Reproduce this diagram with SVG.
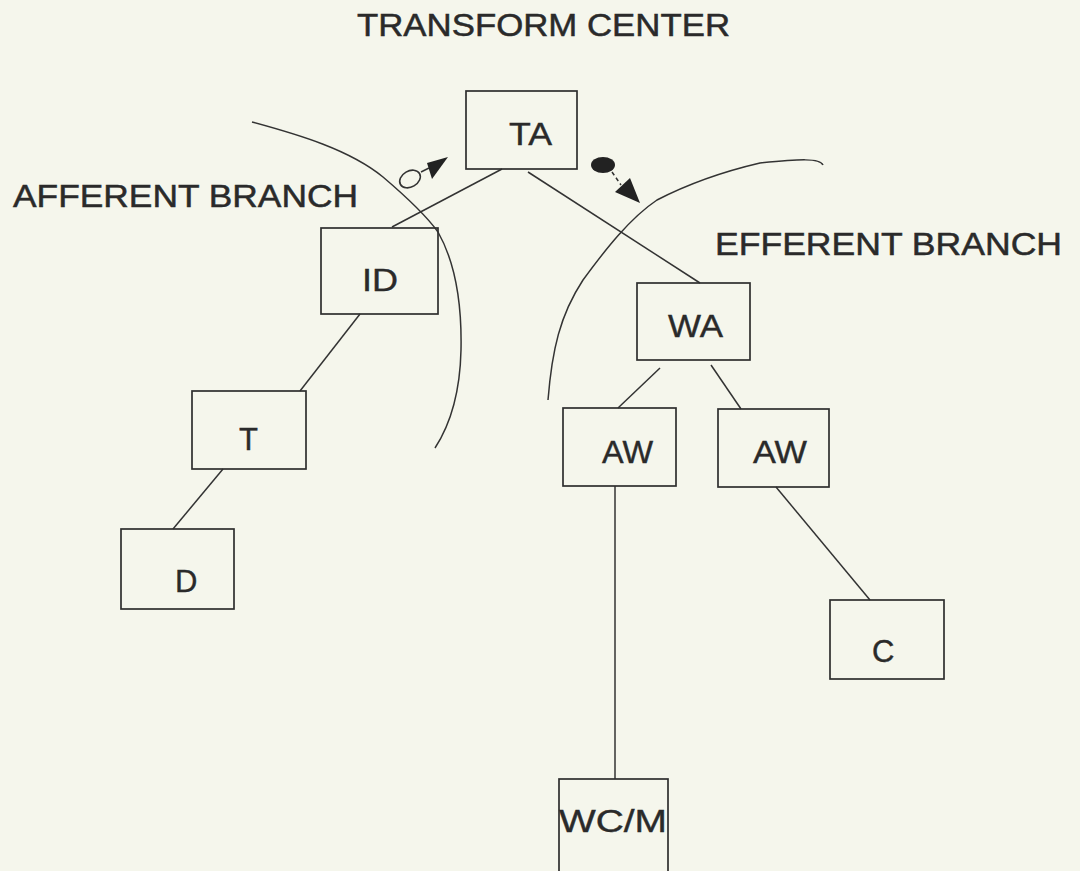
<svg xmlns="http://www.w3.org/2000/svg" width="1080" height="871" viewBox="0 0 1080 871">
<style>
.bg{fill:#f5f6ec}
.box{fill:none;stroke:#2e2e2e;stroke-width:1.7}
.ln{fill:none;stroke:#333;stroke-width:1.5}
.t{font-family:"Liberation Sans",Arial,sans-serif;font-size:32px;fill:#2a2a2a;stroke:#2a2a2a;stroke-width:0.5}
.lbl{font-family:"Liberation Sans",Arial,sans-serif;font-size:31px;fill:#2a2a2a;stroke:#2a2a2a;stroke-width:0.4}
</style>
<rect class="bg" x="0" y="0" width="1080" height="871"/>
<g id="titles">
<text class="t" x="357" y="36" textLength="373" lengthAdjust="spacingAndGlyphs">TRANSFORM CENTER</text>
<text class="t" x="13" y="207" textLength="345" lengthAdjust="spacingAndGlyphs">AFFERENT BRANCH</text>
<text class="t" x="715" y="255" textLength="347" lengthAdjust="spacingAndGlyphs">EFFERENT BRANCH</text>
</g>
<g id="boundaries">
<path class="ln" d="M252,122 C300,135 350,150 383,177 C410,200 428,218 438,232 C455,262 462,300 461,350 C460,395 450,425 435,448"/>
<path class="ln" d="M823,165 C820,158 800,159 760,163 C730,170 690,183 657,200 C630,218 605,250 583,280 C560,315 552,350 548,400"/>
</g>
<g id="connectors">
<line class="ln" x1="502" y1="169" x2="392" y2="227"/>
<line class="ln" x1="528" y1="172" x2="700" y2="283"/>
<line class="ln" x1="360" y1="314" x2="300" y2="391"/>
<line class="ln" x1="223" y1="469" x2="173" y2="529"/>
<line class="ln" x1="660" y1="368" x2="618" y2="408"/>
<line class="ln" x1="711" y1="365" x2="741" y2="409"/>
<line class="ln" x1="615" y1="486" x2="615" y2="779"/>
<line class="ln" x1="776" y1="487" x2="870" y2="600"/>
</g>
<g id="couples">
<ellipse cx="410" cy="179" rx="11" ry="8" transform="rotate(-30 410 179)" fill="none" stroke="#333" stroke-width="1.6"/>
<line class="ln" x1="421" y1="172" x2="429" y2="168"/>
<polygon points="448,157 427,163 432,179" fill="#222"/>
<ellipse cx="603" cy="165" rx="12" ry="8" fill="#222"/>
<line class="ln" x1="612" y1="172" x2="621" y2="185" stroke-dasharray="4,3"/>
<polygon points="640,203 615,192 630,178" fill="#222"/>
</g>
<g id="node-TA"><rect class="box" x="466" y="91" width="111" height="78"/><text class="lbl" x="509" y="145" textLength="43" lengthAdjust="spacingAndGlyphs">TA</text></g>
<g id="node-ID"><rect class="box" x="321" y="228" width="117" height="86"/><text class="lbl" x="362" y="291" textLength="36" lengthAdjust="spacingAndGlyphs">ID</text></g>
<g id="node-T"><rect class="box" x="192" y="391" width="114" height="78"/><text class="lbl" x="239" y="450">T</text></g>
<g id="node-D"><rect class="box" x="121" y="529" width="113" height="80"/><text class="lbl" x="175" y="592">D</text></g>
<g id="node-WA"><rect class="box" x="637" y="283" width="113" height="77"/><text class="lbl" x="668" y="337" textLength="55" lengthAdjust="spacingAndGlyphs">WA</text></g>
<g id="node-AW1"><rect class="box" x="563" y="408" width="113" height="78"/><text class="lbl" x="602" y="463" textLength="51" lengthAdjust="spacingAndGlyphs">AW</text></g>
<g id="node-AW2"><rect class="box" x="718" y="409" width="111" height="78"/><text class="lbl" x="753" y="463" textLength="54" lengthAdjust="spacingAndGlyphs">AW</text></g>
<g id="node-C"><rect class="box" x="830" y="600" width="114" height="79"/><text class="lbl" x="872" y="662">C</text></g>
<g id="node-WCM"><rect class="box" x="559" y="779" width="109" height="100"/><text class="lbl" x="559" y="832" textLength="108" lengthAdjust="spacingAndGlyphs">WC/M</text></g>
</svg>
